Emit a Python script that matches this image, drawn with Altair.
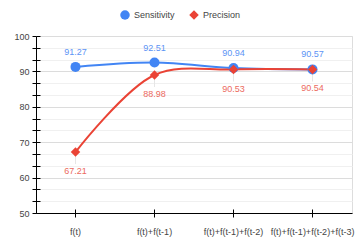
import altair as alt
import pandas as pd

categories = ["f(t)", "f(t)+f(t-1)", "f(t)+f(t-1)+f(t-2)", "f(t)+f(t-1)+f(t-2)+f(t-3)"]
sensitivity = [91.27, 92.51, 90.94, 90.57]
precision = [67.21, 88.98, 90.53, 90.54]
series_names = ["Sensitivity", "Precision"]
series_colors = ["#4285F4", "#EA4335"]
label_colors = ["#5c94f5", "#ec6a60"]
y_ticks = [50, 53.333, 56.667, 60, 63.333, 66.667, 70, 73.333, 76.667, 80,
           83.333, 86.667, 90, 93.333, 96.667, 100]

rows = []
for c, s, p in zip(categories, sensitivity, precision):
    rows.append({"cat": c, "series": "Sensitivity", "value": s})
    rows.append({"cat": c, "series": "Precision", "value": p})
df = pd.DataFrame(rows)
df["o"] = df["series"].map({"Sensitivity": 0, "Precision": 1})

FONT = "Liberation Sans"
MAJOR = "abs(datum.value - round(datum.value/10)*10) < 0.01"

x = alt.X("cat:N", sort=categories, title=None,
          axis=alt.Axis(labelAngle=0, labelFontSize=9, labelColor="#444",
                        labelFont=FONT, domainColor="#000", tickColor="#000",
                        tickSize=4, labelPadding=10, grid=False, labelOverlap=False))
y = alt.Y("value:Q", title=None,
          scale=alt.Scale(domain=[50, 100], nice=False, zero=False),
          axis=alt.Axis(values=y_ticks, labelFontSize=9, labelColor="#444",
                        labelFont=FONT, domainColor="#000", tickColor="#000",
                        tickSize=4, labelPadding=3,
                        labelExpr=MAJOR + " ? format(datum.value, 'd') : ''",
                        gridColor=alt.condition(MAJOR, alt.value("#dcdcdc"), alt.value("#f0f0f0"))))

# inner halves of the tick marks (ticks cross the axis line)
x_in = alt.X("cat:N", sort=categories, title=None,
             axis=alt.Axis(orient="bottom", offset=-4, domain=False, labels=False,
                           grid=False, tickColor="#000", tickSize=4))
y_in = alt.Y("value:Q", title=None,
             scale=alt.Scale(domain=[50, 100], nice=False, zero=False),
             axis=alt.Axis(orient="left", offset=-4, values=y_ticks, domain=False,
                           labels=False, grid=False, tickColor="#000", tickSize=4))

color = alt.Color("series:N", scale=alt.Scale(domain=series_names, range=series_colors),
                  legend=alt.Legend(title=None, orient="none", direction="horizontal",
                                    legendX=84, legendY=-26, labelFontSize=9,
                                    labelColor="#444", labelFont=FONT, symbolSize=90,
                                    columnPadding=14, symbolStrokeWidth=0))
shape = alt.Shape("series:N", scale=alt.Scale(domain=series_names, range=["circle", "diamond"]))

base = alt.Chart(df).encode(x=x, y=y)

stems = base.transform_filter("datum.series == 'Precision'").mark_rule(
    color="#e6e6e6", strokeWidth=1, y2Offset=12).encode(y2="value:Q")
lines = base.mark_line(strokeWidth=2, interpolate="catmull-rom").encode(
    color=color, detail="series:N", order="o:Q")
points_s = base.transform_filter("datum.series == 'Sensitivity'").mark_point(
    filled=True, opacity=1, size=100).encode(color=color, shape=shape)
points_p = base.transform_filter("datum.series == 'Precision'").mark_point(
    filled=True, opacity=1, size=90).encode(color=color, shape=shape)

text_s = base.transform_filter("datum.series == 'Sensitivity'").mark_text(
    dy=-15, fontSize=9, font=FONT, color=label_colors[0]).encode(
    text=alt.Text("value:Q", format=".2f"))
text_p = base.transform_filter("datum.series == 'Precision'").mark_text(
    dy=19, fontSize=9, font=FONT, color=label_colors[1]).encode(
    text=alt.Text("value:Q", format=".2f"))

main = alt.layer(stems, lines, points_s, points_p, text_s, text_p)
inner_ticks = alt.Chart(df).mark_point(opacity=0).encode(x=x_in, y=y_in)

chart = alt.layer(main, inner_ticks).resolve_axis(x="independent", y="independent").properties(
    width=316, height=177,
    autosize=alt.AutoSizeParams(type="none"),
    padding={"left": 28, "top": 28, "right": 4, "bottom": 24},
).configure_view(stroke=None).configure(background="white")

chart.save("out.html", embed_options={"renderer": "svg", "actions": False})
